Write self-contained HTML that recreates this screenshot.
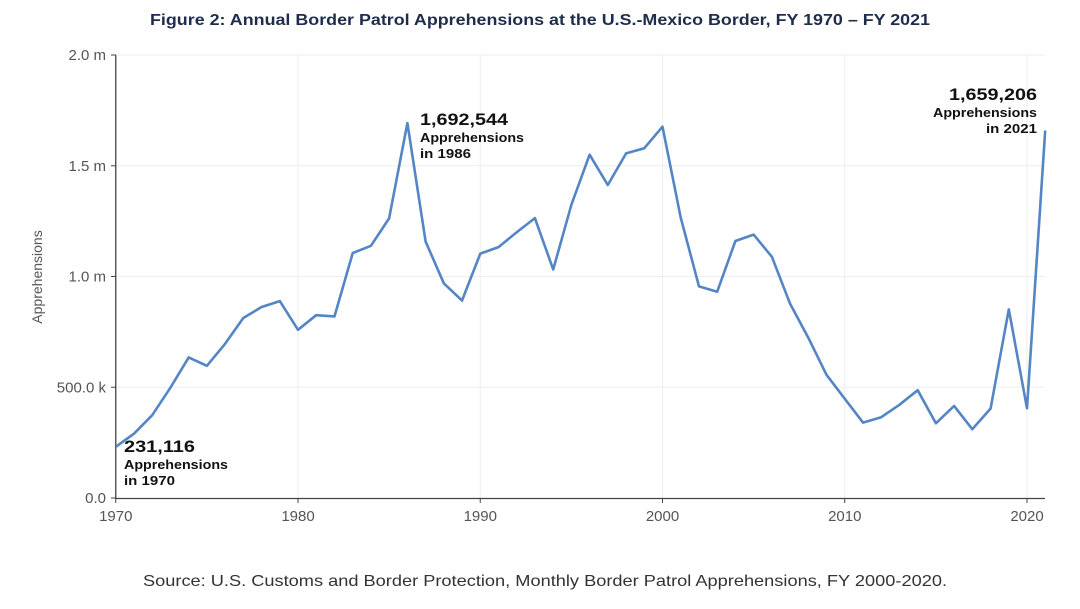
<!DOCTYPE html>
<html><head><meta charset="utf-8"><style>
body{margin:0;background:#fff;width:1080px;height:604px;overflow:hidden;font-family:"Liberation Sans",sans-serif}
</style></head><body>
<svg width="1080" height="604" id="svg" font-family="Liberation Sans, sans-serif">
<text x="150" y="25" textLength="780" lengthAdjust="spacingAndGlyphs" font-size="16" font-weight="bold" fill="#1f2d4d">Figure 2: Annual Border Patrol Apprehensions at the U.S.-Mexico Border, FY 1970 – FY 2021</text>
<text x="143" y="586" textLength="804" lengthAdjust="spacingAndGlyphs" font-size="16" fill="#333">Source: U.S. Customs and Border Protection, Monthly Border Patrol Apprehensions, FY 2000-2020.</text>
<text transform="translate(42,277) rotate(-90)" text-anchor="middle" font-size="14" fill="#555">Apprehensions</text>
<g id="grid"></g><g id="axes"></g><g id="series"></g>
<g fill="#111" font-weight="bold">
<text x="124" y="452" font-size="17" textLength="71" lengthAdjust="spacingAndGlyphs">231,116</text><text x="124" y="469" font-size="13" textLength="104" lengthAdjust="spacingAndGlyphs">Apprehensions</text><text x="124" y="485" font-size="13" textLength="51" lengthAdjust="spacingAndGlyphs">in 1970</text></g>
<g fill="#111" font-weight="bold">
<text x="420" y="125" font-size="17" textLength="88" lengthAdjust="spacingAndGlyphs">1,692,544</text><text x="420" y="142" font-size="13" textLength="104" lengthAdjust="spacingAndGlyphs">Apprehensions</text><text x="420" y="158" font-size="13" textLength="51" lengthAdjust="spacingAndGlyphs">in 1986</text></g>
<g fill="#111" font-weight="bold" text-anchor="end">
<text x="1037" y="100" font-size="17" textLength="88" lengthAdjust="spacingAndGlyphs">1,659,206</text><text x="1037" y="117" font-size="13" textLength="104" lengthAdjust="spacingAndGlyphs">Apprehensions</text><text x="1037" y="133" font-size="13" textLength="51" lengthAdjust="spacingAndGlyphs">in 2021</text></g>
</svg>
<script>
const years=[1970,1971,1972,1973,1974,1975,1976,1977,1978,1979,1980,1981,1982,1983,1984,1985,1986,1987,1988,1989,1990,1991,1992,1993,1994,1995,1996,1997,1998,1999,2000,2001,2002,2003,2004,2005,2006,2007,2008,2009,2010,2011,2012,2013,2014,2015,2016,2017,2018,2019,2020,2021];
const apprehensions=[231116,290152,373896,498123,634777,596796,696039,812541,862217,888729,759420,825290,819919,1105670,1138566,1262435,1692544,1158030,969214,891147,1103353,1132933,1199560,1263490,1031668,1324202,1549876,1412953,1555776,1579010,1676438,1266214,955310,931557,1160395,1189075,1089092,876704,723825,556041,447731,340252,364768,420789,486651,337117,415816,310531,404142,851508,405036,1659206];
const xTicks=[1970,1980,1990,2000,2010,2020];
const yTicks=[0,500000,1000000,1500000,2000000];
const yTickLabels=["0.0","500.0 k","1.0 m","1.5 m","2.0 m"];
const NS="http://www.w3.org/2000/svg";
const X=y=>115.75+(y-1970)*18.225;
const Y=v=>498-v*0.0002215;
function mk(t,a,p){const e=document.createElementNS(NS,t);for(const k in a)e.setAttribute(k,a[k]);document.getElementById(p).appendChild(e);return e;}
xTicks.forEach(t=>{
 if(t>1970){const g=mk('line',{x1:X(t),x2:X(t),y1:55,y2:498,stroke:'#eee','stroke-width':1},'grid');
 
 }
 const k=mk('line',{x1:X(t),x2:X(t),y1:498,y2:503,stroke:'#444'},'axes');
 
 
 const l=mk('text',{x:X(t),y:521,'text-anchor':'middle','font-size':15,fill:'#555'},'axes');l.textContent=t;
 
 
});
yTicks.forEach((t,i)=>{
 if(t>0){const g=mk('line',{x1:116,x2:1045,y1:Y(t),y2:Y(t),stroke:'#eee'},'grid');
 
 }
 const k=mk('line',{x1:111,x2:116,y1:Y(t),y2:Y(t),stroke:'#444'},'axes');
 
 
 const l=mk('text',{x:106,y:Y(t)+5,'text-anchor':'end','font-size':15,fill:'#555'},'axes');l.textContent=yTickLabels[i];
 
 
});
const ya=mk('line',{x1:115.75,x2:115.75,y1:55,y2:499,stroke:'#444','stroke-width':1.3},'axes');


const xa=mk('line',{x1:115,x2:1045,y1:498.5,y2:498.5,stroke:'#444','stroke-width':1.3},'axes');


const pts=years.map((y,i)=>X(y).toFixed(1)+','+Y(apprehensions[i]).toFixed(1)).join(' ');
const pl=mk('polyline',{points:pts,fill:'none',stroke:'#5485c4','stroke-width':2.6,'stroke-linejoin':'round'},'series');


</script>
</body></html>
